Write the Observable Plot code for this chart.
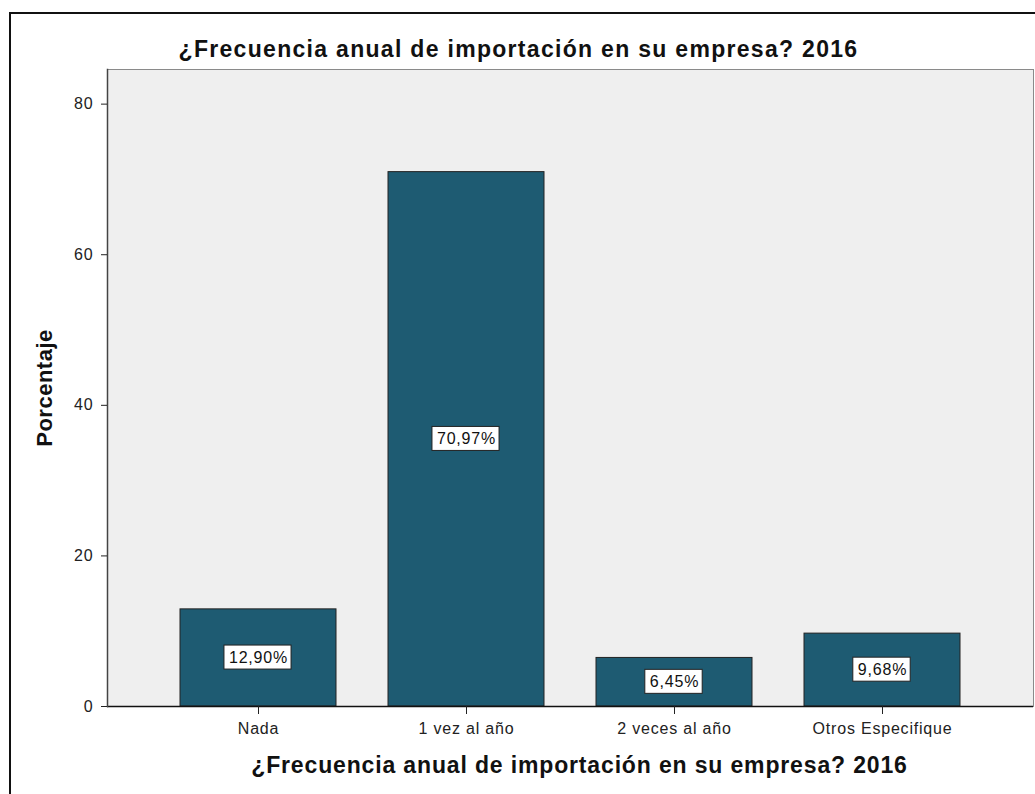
<!DOCTYPE html>
<html>
<head>
<meta charset="utf-8">
<script src="https://cdn.jsdelivr.net/npm/d3@7"></script>
<script src="https://cdn.jsdelivr.net/npm/@observablehq/plot@0.6"></script>
<style>
  html, body { margin: 0; padding: 0; background: #fff; overflow: hidden; }
  #wrap { position: relative; width: 1035px; height: 794px; overflow: hidden; }
  #frame { position: absolute; left: 9px; top: 12px; width: 1200px; height: 1000px;
           border-left: 2px solid #111; border-top: 2px solid #111; }
  #chart { position: absolute; left: 0; top: 0; }
</style>
</head>
<body>
<div id="wrap"><div id="frame"></div><div id="chart"></div></div>
<script>
const categories = ["Nada", "1 vez al año", "2 veces al año", "Otros Especifique"];
const values = [12.90, 70.97, 6.45, 9.68];
const yTicks = [0, 20, 40, 60, 80];
const title = "¿Frecuencia anual de importación en su empresa? 2016";
const xTitle = "¿Frecuencia anual de importación en su empresa? 2016";
const yTitle = "Porcentaje";

const data = categories.map((c, i) => ({cat: c, value: values[i]}));
const fmt = v => v.toFixed(2).replace(".", ",") + "%";

const plot = Plot.plot({
  width: 1035,
  height: 794,
  marginLeft: 107,
  marginRight: 2,
  marginTop: 69,
  marginBottom: 88,
  style: {fontFamily: "'Liberation Sans', Arial, sans-serif", background: "transparent", color: "#222", overflow: "visible"},
  x: {domain: categories, paddingInner: 0.25, paddingOuter: 0.35, label: null},
  y: {domain: [0, 84.6], label: null},
  marks: [
    Plot.frame({fill: "#efefef", stroke: "#8a8a8a"}),
    Plot.barY(data, {x: "cat", y: "value", fill: "#1e5b72", stroke: "#222", strokeWidth: 1}),
    Plot.ruleY([0], {stroke: "#111", strokeWidth: 1.5}),
    Plot.frame({anchor: "left", stroke: "#444", strokeWidth: 1.5}),
    Plot.axisY({ticks: yTicks, tickSize: 6, tickPadding: 8, fontSize: 16, label: null, tickFormat: d => String(d)}),
    Plot.axisX({tickSize: 8, tickPadding: 8, fontSize: 16, label: null}),
    Plot.text(data, {x: "cat", y: d => d.value / 2, text: d => fmt(d.value), fontSize: 16, fill: "#111"}),
    Plot.text([title], {frameAnchor: "top", textAnchor: "middle", lineAnchor: "middle", dx: -52, dy: -20, fontSize: 23, fontWeight: "bold", fill: "#111"}),
    Plot.text([xTitle], {frameAnchor: "bottom", textAnchor: "middle", lineAnchor: "middle", dx: 9, dy: 59, fontSize: 23, fontWeight: "bold", fill: "#111"}),
    Plot.text([yTitle], {frameAnchor: "left", textAnchor: "middle", lineAnchor: "middle", rotate: -90, dx: -63, fontSize: 22, fontWeight: "bold", fill: "#111"})
  ]
});

document.getElementById("chart").appendChild(plot);

// letter spacing (title first, x-axis title second) and label boxes
let titleCount = 0;
plot.querySelectorAll("text").forEach(t => {
  const s = t.textContent;
  if (s === title) {
    t.style.letterSpacing = titleCount === 0 ? "1.3px" : "0.85px";
    titleCount++;
  } else if (s === yTitle) {
    t.style.letterSpacing = "0.5px";
  } else {
    t.style.letterSpacing = "0.8px";
  }
});
plot.querySelectorAll("text").forEach(t => {
  const s = t.textContent;
  if (/%$/.test(s)) {
    const bb = t.getBBox();
    const r = document.createElementNS("http://www.w3.org/2000/svg", "rect");
    r.setAttribute("x", bb.x - 5);
    r.setAttribute("y", bb.y - 4);
    r.setAttribute("width", bb.width + 8);
    r.setAttribute("height", bb.height + 7);
    r.setAttribute("fill", "#fff");
    r.setAttribute("stroke", "#222");
    r.setAttribute("stroke-width", "1");
    const tr = t.getAttribute("transform");
    if (tr) r.setAttribute("transform", tr);
    t.parentNode.insertBefore(r, t);
  }
});
</script>
</body>
</html>
